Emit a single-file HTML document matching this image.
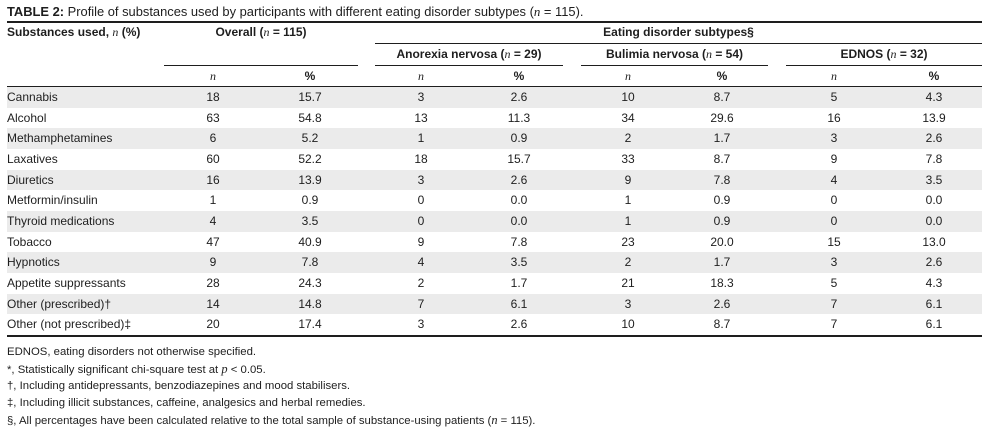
<!DOCTYPE html>
<html><head><meta charset="utf-8"><style>
html,body{margin:0;padding:0;background:#fff;}
body{width:985px;height:431px;position:relative;overflow:hidden;font-family:"Liberation Sans",Arial,sans-serif;color:#1e1e1e;font-size:12px;}
.a{position:absolute;white-space:nowrap;}
.c{position:absolute;width:90px;text-align:center;white-space:nowrap;}
.hl{position:absolute;background:#1e1e1e;}
.g{position:absolute;left:7px;width:975px;background:#ebebeb;}
i.n{font-family:"Liberation Serif",serif;font-style:italic;}
b{font-weight:bold;}
.fn{position:absolute;left:7px;font-size:11.35px;line-height:17px;white-space:nowrap;}
</style></head><body>
<div class="a" style="left:7px;top:4px;line-height:15px;font-size:12.9px;"><b>TABLE 2:</b> Profile of substances used by participants with different eating disorder subtypes (<i class="n">n</i> = 115).</div>
<div class="hl" style="left:7px;top:21px;width:975px;height:2px;"></div>

<div class="a" style="left:7px;top:25px;line-height:14px;font-weight:bold;">Substances used, <i class="n" style="font-weight:normal">n</i> (%)</div>
<div class="a" style="left:164px;width:194px;text-align:center;top:25px;line-height:14px;font-weight:bold;">Overall (<i class="n" style="font-weight:normal">n</i> = 115)</div>
<div class="a" style="left:375px;width:607px;text-align:center;top:25px;line-height:14px;font-weight:bold;">Eating disorder subtypes§</div>
<div class="hl" style="left:375px;top:43px;width:607px;height:1px;"></div>

<div class="a" style="left:375px;width:188px;text-align:center;top:47px;line-height:14px;font-weight:bold;">Anorexia nervosa (<i class="n" style="font-weight:normal">n</i> = 29)</div>
<div class="a" style="left:581px;width:187px;text-align:center;top:47px;line-height:14px;font-weight:bold;">Bulimia nervosa (<i class="n" style="font-weight:normal">n</i> = 54)</div>
<div class="a" style="left:786px;width:196px;text-align:center;top:47px;line-height:14px;font-weight:bold;">EDNOS (<i class="n" style="font-weight:normal">n</i> = 32)</div>
<div class="hl" style="left:164px;top:65px;width:194px;height:1px;"></div>
<div class="hl" style="left:375px;top:65px;width:188px;height:1px;"></div>
<div class="hl" style="left:581px;top:65px;width:187px;height:1px;"></div>
<div class="hl" style="left:786px;top:65px;width:196px;height:1px;"></div>

<div class="c" style="left:168px;top:69px;line-height:14px;"><i class="n">n</i></div>
<div class="c" style="left:265px;top:69px;line-height:14px;font-weight:bold;">%</div>
<div class="c" style="left:376px;top:69px;line-height:14px;"><i class="n">n</i></div>
<div class="c" style="left:474px;top:69px;line-height:14px;font-weight:bold;">%</div>
<div class="c" style="left:583px;top:69px;line-height:14px;"><i class="n">n</i></div>
<div class="c" style="left:677px;top:69px;line-height:14px;font-weight:bold;">%</div>
<div class="c" style="left:789px;top:69px;line-height:14px;"><i class="n">n</i></div>
<div class="c" style="left:889px;top:69px;line-height:14px;font-weight:bold;">%</div>
<div class="hl" style="left:7px;top:86px;width:975px;height:1px;"></div>

<div class="g" style="top:87px;height:20.67px;"></div>
<div class="g" style="top:128.33px;height:20.67px;"></div>
<div class="g" style="top:169.67px;height:20.67px;"></div>
<div class="g" style="top:211px;height:20.67px;"></div>
<div class="g" style="top:252.33px;height:20.67px;"></div>
<div class="g" style="top:293.67px;height:20.67px;"></div>

<div style="position:absolute;left:0;top:87px;">
<div style="position:absolute;left:0;top:0px;height:20.67px;line-height:20.67px;width:985px;"><span class="a" style="left:7px;">Cannabis</span><span class="c" style="left:168px">18</span><span class="c" style="left:265px">15.7</span><span class="c" style="left:376px">3</span><span class="c" style="left:474px">2.6</span><span class="c" style="left:583px">10</span><span class="c" style="left:677px">8.7</span><span class="c" style="left:789px">5</span><span class="c" style="left:889px">4.3</span></div>
<div style="position:absolute;left:0;top:20.67px;height:20.67px;line-height:20.67px;width:985px;"><span class="a" style="left:7px;">Alcohol</span><span class="c" style="left:168px">63</span><span class="c" style="left:265px">54.8</span><span class="c" style="left:376px">13</span><span class="c" style="left:474px">11.3</span><span class="c" style="left:583px">34</span><span class="c" style="left:677px">29.6</span><span class="c" style="left:789px">16</span><span class="c" style="left:889px">13.9</span></div>
<div style="position:absolute;left:0;top:41.33px;height:20.67px;line-height:20.67px;width:985px;"><span class="a" style="left:7px;">Methamphetamines</span><span class="c" style="left:168px">6</span><span class="c" style="left:265px">5.2</span><span class="c" style="left:376px">1</span><span class="c" style="left:474px">0.9</span><span class="c" style="left:583px">2</span><span class="c" style="left:677px">1.7</span><span class="c" style="left:789px">3</span><span class="c" style="left:889px">2.6</span></div>
<div style="position:absolute;left:0;top:62px;height:20.67px;line-height:20.67px;width:985px;"><span class="a" style="left:7px;">Laxatives</span><span class="c" style="left:168px">60</span><span class="c" style="left:265px">52.2</span><span class="c" style="left:376px">18</span><span class="c" style="left:474px">15.7</span><span class="c" style="left:583px">33</span><span class="c" style="left:677px">8.7</span><span class="c" style="left:789px">9</span><span class="c" style="left:889px">7.8</span></div>
<div style="position:absolute;left:0;top:82.67px;height:20.67px;line-height:20.67px;width:985px;"><span class="a" style="left:7px;">Diuretics</span><span class="c" style="left:168px">16</span><span class="c" style="left:265px">13.9</span><span class="c" style="left:376px">3</span><span class="c" style="left:474px">2.6</span><span class="c" style="left:583px">9</span><span class="c" style="left:677px">7.8</span><span class="c" style="left:789px">4</span><span class="c" style="left:889px">3.5</span></div>
<div style="position:absolute;left:0;top:103.33px;height:20.67px;line-height:20.67px;width:985px;"><span class="a" style="left:7px;">Metformin/insulin</span><span class="c" style="left:168px">1</span><span class="c" style="left:265px">0.9</span><span class="c" style="left:376px">0</span><span class="c" style="left:474px">0.0</span><span class="c" style="left:583px">1</span><span class="c" style="left:677px">0.9</span><span class="c" style="left:789px">0</span><span class="c" style="left:889px">0.0</span></div>
<div style="position:absolute;left:0;top:124px;height:20.67px;line-height:20.67px;width:985px;"><span class="a" style="left:7px;">Thyroid medications</span><span class="c" style="left:168px">4</span><span class="c" style="left:265px">3.5</span><span class="c" style="left:376px">0</span><span class="c" style="left:474px">0.0</span><span class="c" style="left:583px">1</span><span class="c" style="left:677px">0.9</span><span class="c" style="left:789px">0</span><span class="c" style="left:889px">0.0</span></div>
<div style="position:absolute;left:0;top:144.67px;height:20.67px;line-height:20.67px;width:985px;"><span class="a" style="left:7px;">Tobacco</span><span class="c" style="left:168px">47</span><span class="c" style="left:265px">40.9</span><span class="c" style="left:376px">9</span><span class="c" style="left:474px">7.8</span><span class="c" style="left:583px">23</span><span class="c" style="left:677px">20.0</span><span class="c" style="left:789px">15</span><span class="c" style="left:889px">13.0</span></div>
<div style="position:absolute;left:0;top:165.33px;height:20.67px;line-height:20.67px;width:985px;"><span class="a" style="left:7px;">Hypnotics</span><span class="c" style="left:168px">9</span><span class="c" style="left:265px">7.8</span><span class="c" style="left:376px">4</span><span class="c" style="left:474px">3.5</span><span class="c" style="left:583px">2</span><span class="c" style="left:677px">1.7</span><span class="c" style="left:789px">3</span><span class="c" style="left:889px">2.6</span></div>
<div style="position:absolute;left:0;top:186px;height:20.67px;line-height:20.67px;width:985px;"><span class="a" style="left:7px;">Appetite suppressants</span><span class="c" style="left:168px">28</span><span class="c" style="left:265px">24.3</span><span class="c" style="left:376px">2</span><span class="c" style="left:474px">1.7</span><span class="c" style="left:583px">21</span><span class="c" style="left:677px">18.3</span><span class="c" style="left:789px">5</span><span class="c" style="left:889px">4.3</span></div>
<div style="position:absolute;left:0;top:206.67px;height:20.67px;line-height:20.67px;width:985px;"><span class="a" style="left:7px;">Other (prescribed)†</span><span class="c" style="left:168px">14</span><span class="c" style="left:265px">14.8</span><span class="c" style="left:376px">7</span><span class="c" style="left:474px">6.1</span><span class="c" style="left:583px">3</span><span class="c" style="left:677px">2.6</span><span class="c" style="left:789px">7</span><span class="c" style="left:889px">6.1</span></div>
<div style="position:absolute;left:0;top:227.33px;height:20.67px;line-height:20.67px;width:985px;"><span class="a" style="left:7px;">Other (not prescribed)‡</span><span class="c" style="left:168px">20</span><span class="c" style="left:265px">17.4</span><span class="c" style="left:376px">3</span><span class="c" style="left:474px">2.6</span><span class="c" style="left:583px">10</span><span class="c" style="left:677px">8.7</span><span class="c" style="left:789px">7</span><span class="c" style="left:889px">6.1</span></div>
</div>
<div class="hl" style="left:7px;top:335px;width:975px;height:2px;"></div>

<div class="fn" style="top:344px;">EDNOS, eating disorders not otherwise specified.</div>
<div class="fn" style="top:361px;">*, Statistically significant chi-square test at <i class="n" style="font-size:12.4px">p</i> &lt; 0.05.</div>
<div class="fn" style="top:378px;">†, Including antidepressants, benzodiazepines and mood stabilisers.</div>
<div class="fn" style="top:394.5px;">‡, Including illicit substances, caffeine, analgesics and herbal remedies.</div>
<div class="fn" style="top:411.5px;">§, All percentages have been calculated relative to the total sample of substance-using patients (<i class="n" style="font-size:12.4px">n</i> = 115).</div>
</body></html>
